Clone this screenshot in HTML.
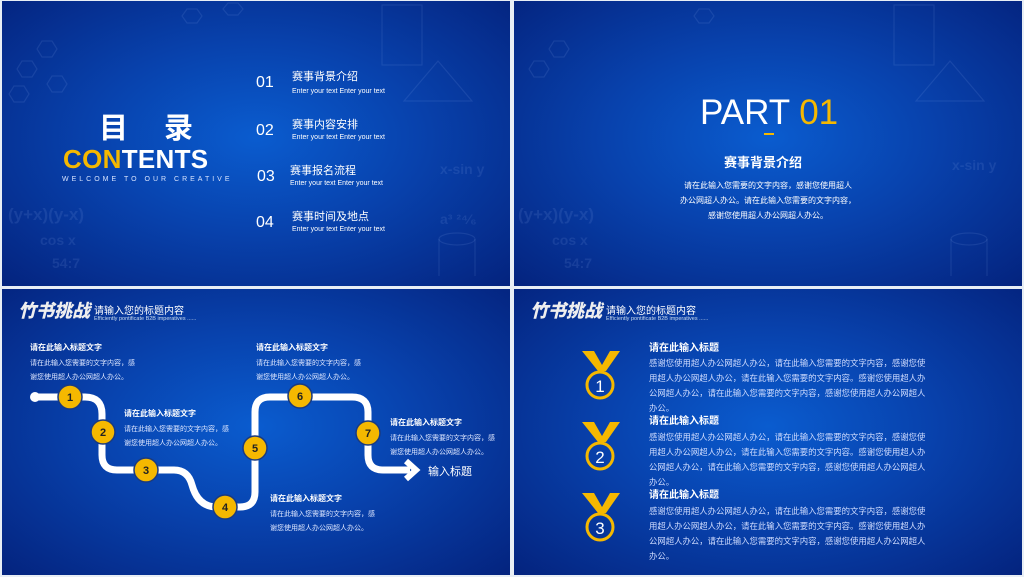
<!DOCTYPE html>
<html><head><meta charset="utf-8">
<style>
*{margin:0;padding:0;box-sizing:border-box}
body{width:1024px;height:577px;background:#e8eef5;position:relative;overflow:hidden;font-family:"Liberation Sans","Noto Sans CJK SC",sans-serif;color:#fff}
.s{position:absolute;overflow:hidden;background:radial-gradient(ellipse at 50% 48%,#0a5ccf 0%,#0842ad 45%,#04237e 100%)}
.a{position:absolute;white-space:nowrap}
.cn{font-family:"Liberation Sans","Noto Sans CJK SC",sans-serif}
.faint{position:absolute;color:rgba(170,200,255,.11);font-size:14px;font-weight:bold}
</style></head><body>

<!-- Slide 1 -->
<div class="s" style="left:2px;top:1px;width:508px;height:285px">
  <div class="faint" style="left:6px;top:204px;font-size:17px">(y+x)(y-x)</div>
  <div class="faint" style="left:38px;top:231px">cos x</div>
  <div class="faint" style="left:50px;top:254px">54:7</div>
  <div class="faint" style="left:438px;top:160px">x-sin y</div>
  <div class="faint" style="left:438px;top:210px">a³ ²⁴⁄₆</div>
  <svg class="a" style="left:0;top:0" width="508" height="285"><g fill="none" stroke="rgba(170,200,255,.11)" stroke-width="1.2">
    <polygon points="40,40 50,40 55,48 50,56 40,56 35,48"/><polygon points="20,60 30,60 35,68 30,76 20,76 15,68"/>
    <polygon points="50,75 60,75 65,83 60,91 50,91 45,83"/><polygon points="12,85 22,85 27,93 22,101 12,101 7,93"/>
    <polygon points="185,8 195,8 200,15 195,22 185,22 180,15"/><polygon points="226,2 236,2 241,8 236,14 226,14 221,8"/>
    <polygon points="436,60 470,100 402,100"/><rect x="380" y="4" width="40" height="60"/>
    <ellipse cx="455" cy="238" rx="18" ry="6"/><path d="M437 238 V275 M473 238 V275"/>
  </g></svg>
  <div class="a cn" style="left:97px;top:104px;font-size:29px;font-weight:bold;letter-spacing:14px">目 录</div>
  <div class="a" style="left:61px;top:143px;font-size:26px;font-weight:900;letter-spacing:0.3px"><span style="color:#f5b800">CON</span>TENTS</div>
  <div class="a" style="left:60px;top:175px;font-size:7px;letter-spacing:3px;color:#d8e4ff">WELCOME TO OUR CREATIVE</div>
  <div class="a" style="left:254px;top:73px;font-size:16px">01</div>
  <div class="a cn" style="left:290px;top:67px;font-size:11px">赛事背景介绍</div>
  <div class="a" style="left:290px;top:87px;font-size:7px">Enter your text Enter your text</div>
  <div class="a" style="left:254px;top:121px;font-size:16px">02</div>
  <div class="a cn" style="left:290px;top:115px;font-size:11px">赛事内容安排</div>
  <div class="a" style="left:290px;top:133px;font-size:7px">Enter your text Enter your text</div>
  <div class="a" style="left:255px;top:167px;font-size:16px">03</div>
  <div class="a cn" style="left:288px;top:161px;font-size:11px">赛事报名流程</div>
  <div class="a" style="left:288px;top:179px;font-size:7px">Enter your text Enter your text</div>
  <div class="a" style="left:254px;top:213px;font-size:16px">04</div>
  <div class="a cn" style="left:290px;top:207px;font-size:11px">赛事时间及地点</div>
  <div class="a" style="left:290px;top:225px;font-size:7px">Enter your text Enter your text</div>
</div>

<!-- Slide 2 -->
<div class="s" style="left:514px;top:1px;width:508px;height:285px">
  <div class="faint" style="left:4px;top:204px;font-size:17px">(y+x)(y-x)</div>
  <div class="faint" style="left:38px;top:231px">cos x</div>
  <div class="faint" style="left:50px;top:254px">54:7</div>
  <div class="faint" style="left:438px;top:156px">x-sin y</div>
  <svg class="a" style="left:0;top:0" width="508" height="285"><g fill="none" stroke="rgba(170,200,255,.11)" stroke-width="1.2">
    <polygon points="40,40 50,40 55,48 50,56 40,56 35,48"/><polygon points="20,60 30,60 35,68 30,76 20,76 15,68"/>
    <polygon points="185,8 195,8 200,15 195,22 185,22 180,15"/>
    <polygon points="436,60 470,100 402,100"/><rect x="380" y="4" width="40" height="60"/>
    <ellipse cx="455" cy="238" rx="18" ry="6"/><path d="M437 238 V275 M473 238 V275"/>
  </g></svg>
  <div class="a" style="left:186px;top:92px;font-size:35px"><span>PART </span><span style="color:#f5b800">01</span></div>
  <div style="position:absolute;left:250px;top:132px;width:10px;height:2px;background:#f5b800"></div>
  <div class="a cn" style="left:210px;top:151px;font-size:13px;font-weight:bold">赛事背景介绍</div>
  <div class="a cn" style="left:0;width:508px;text-align:center;top:177px;font-size:8px;line-height:15px;white-space:normal">请在此输入您需要的文字内容，感谢您使用超人<br>办公网超人办公。请在此输入您需要的文字内容，<br>感谢您使用超人办公网超人办公。</div>
</div>

<!-- Slide 3 -->
<div class="s" style="left:2px;top:289px;width:508px;height:286px">
  <div class="a cn" style="left:16px;top:8px;font-size:18px;font-weight:900;font-style:italic;color:#eee">竹书挑战</div>
  <div class="a cn" style="left:92px;top:13px;font-size:10px">请输入您的标题内容</div>
  <div class="a" style="left:92px;top:27px;font-size:5.5px;color:#cde">Efficiently pontificate B2B imperatives ......</div>
  <div class="a cn" style="left:28px;top:53px;font-size:8px;font-weight:bold">请在此输入标题文字</div>
  <div class="a cn" style="left:28px;top:68px;font-size:7px;line-height:14px;color:#dde6ff">请在此输入您需要的文字内容，感<br>谢您使用超人办公网超人办公。</div>
  <div class="a cn" style="left:122px;top:119px;font-size:8px;font-weight:bold">请在此输入标题文字</div>
  <div class="a cn" style="left:122px;top:134px;font-size:7px;line-height:14px;color:#dde6ff">请在此输入您需要的文字内容，感<br>谢您使用超人办公网超人办公。</div>
  <div class="a cn" style="left:254px;top:53px;font-size:8px;font-weight:bold">请在此输入标题文字</div>
  <div class="a cn" style="left:254px;top:68px;font-size:7px;line-height:14px;color:#dde6ff">请在此输入您需要的文字内容，感<br>谢您使用超人办公网超人办公。</div>
  <div class="a cn" style="left:268px;top:204px;font-size:8px;font-weight:bold">请在此输入标题文字</div>
  <div class="a cn" style="left:268px;top:219px;font-size:7px;line-height:14px;color:#dde6ff">请在此输入您需要的文字内容，感<br>谢您使用超人办公网超人办公。</div>
  <div class="a cn" style="left:388px;top:128px;font-size:8px;font-weight:bold">请在此输入标题文字</div>
  <div class="a cn" style="left:388px;top:143px;font-size:7px;line-height:14px;color:#dde6ff">请在此输入您需要的文字内容，感<br>谢您使用超人办公网超人办公。</div>
  <svg class="a" style="left:0;top:0" width="508" height="286">
    <path d="M33 108 H83 Q100 108 100 125 V166 Q100 181 115 181 H172 Q186 181 190 196 Q196 218 215 218 H238 Q253 218 253 203 V123 Q253 108 268 108 H350 Q366 108 366 123 V166 Q366 181 381 181 H408" fill="none" stroke="#fff" stroke-width="7"/>
    <circle cx="33" cy="108" r="5" fill="#fff"/>
    <path d="M404 172 L414 181 L404 190" fill="none" stroke="#fff" stroke-width="6"/>
    <g fill="#f5b800" stroke="#1a3a80" stroke-width="1.5">
      <circle cx="68" cy="108" r="12"/><circle cx="101" cy="143" r="12"/><circle cx="144" cy="181" r="12"/>
      <circle cx="223" cy="218" r="12"/><circle cx="253" cy="159" r="12"/><circle cx="298" cy="107" r="12"/><circle cx="366" cy="144" r="12"/>
    </g>
    <g fill="#222" font-family="Liberation Sans" font-weight="bold" font-size="11" text-anchor="middle">
      <text x="68" y="112">1</text><text x="101" y="147">2</text><text x="144" y="185">3</text><text x="223" y="222">4</text><text x="253" y="163">5</text><text x="298" y="111">6</text><text x="366" y="148">7</text>
    </g>
  </svg>
  <div class="a cn" style="left:426px;top:174px;font-size:11px">输入标题</div>
</div>

<!-- Slide 4 -->
<div class="s" style="left:514px;top:289px;width:508px;height:286px">
  <div class="a cn" style="left:16px;top:8px;font-size:18px;font-weight:900;font-style:italic;color:#eee">竹书挑战</div>
  <div class="a cn" style="left:92px;top:13px;font-size:10px">请输入您的标题内容</div>
  <div class="a" style="left:92px;top:27px;font-size:5.5px;color:#cde">Efficiently pontificate B2B imperatives ......</div>
  <svg class="a" style="left:0;top:0" width="508" height="286">
    <g id="m">
      <path d="M68 62 H80 L88 76 L96 62 H106 L92 82 H84 Z" fill="#f5b800"/>
      <circle cx="86" cy="96" r="13" fill="none" stroke="#f5b800" stroke-width="3"/>
    </g>
    <use href="#m" y="71"/><use href="#m" y="142"/>
    <g fill="#fff" font-family="Liberation Sans" font-size="17" text-anchor="middle">
      <text x="86" y="103">1</text><text x="86" y="174">2</text><text x="86" y="245">3</text>
    </g>
  </svg>
  <div class="a cn" style="left:135px;top:50px;font-size:10px;font-weight:bold">请在此输入标题</div>
  <div class="a cn" style="left:135px;top:67px;width:282px;white-space:normal;font-size:8.4px;line-height:15px;color:#cfdcff">感谢您使用超人办公网超人办公，请在此输入您需要的文字内容，感谢您使用超人办公网超人办公，请在此输入您需要的文字内容。感谢您使用超人办公网超人办公，请在此输入您需要的文字内容，感谢您使用超人办公网超人办公。</div>
  <div class="a cn" style="left:135px;top:123px;font-size:10px;font-weight:bold">请在此输入标题</div>
  <div class="a cn" style="left:135px;top:141px;width:282px;white-space:normal;font-size:8.4px;line-height:15px;color:#cfdcff">感谢您使用超人办公网超人办公，请在此输入您需要的文字内容，感谢您使用超人办公网超人办公，请在此输入您需要的文字内容。感谢您使用超人办公网超人办公，请在此输入您需要的文字内容，感谢您使用超人办公网超人办公。</div>
  <div class="a cn" style="left:135px;top:197px;font-size:10px;font-weight:bold">请在此输入标题</div>
  <div class="a cn" style="left:135px;top:215px;width:282px;white-space:normal;font-size:8.4px;line-height:15px;color:#cfdcff">感谢您使用超人办公网超人办公，请在此输入您需要的文字内容，感谢您使用超人办公网超人办公，请在此输入您需要的文字内容。感谢您使用超人办公网超人办公，请在此输入您需要的文字内容，感谢您使用超人办公网超人办公。</div>
</div>
</body></html>
